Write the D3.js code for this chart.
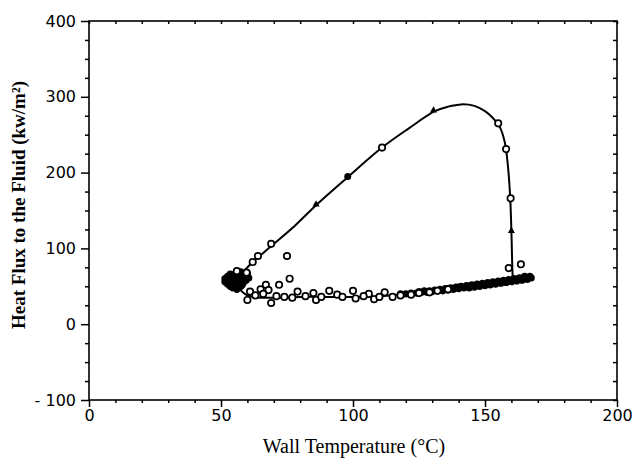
<!DOCTYPE html>
<html>
<head>
<meta charset="utf-8">
<script src="https://cdn.jsdelivr.net/npm/d3@7"></script>
<style>
  body { margin: 0; background: #fff; }
  .tick text { font-family: "DejaVu Sans", sans-serif; font-size: 16px; fill: #000; }
  .title { font-family: "Liberation Serif", serif; fill: #000; }
</style>
</head>
<body>
<svg id="chart"></svg>
<script>
const xTicks = [0, 50, 100, 150, 200];
const yTicks = [-100, 0, 100, 200, 300, 400];

// heating run: rise to the peak, then the steep drop
const heatingCurve = [
  [54, 57], [58, 68], [62, 82], [66, 94], [70, 106], [78, 130], [86, 157],
  [98, 194], [111, 233], [121, 258], [131, 281], [136, 287], [141, 290],
  [146, 288], [150, 281], [153, 272], [155.5, 261], [157.5, 240], [158.5, 215],
  [159.5, 170], [160, 123], [160.3, 80], [160.5, 60]
];

// cooling run back along the bottom
const coolingCurve = [
  [167, 62], [160, 57], [150, 52], [140, 48], [130, 43], [120, 40], [110, 37],
  [100, 36], [90, 36], [80, 36], [70, 35], [62, 36], [59, 40], [56, 50], [54, 57]
];

const openCircles = [
  [61, 43], [60, 32], [65, 46], [67, 52], [69, 28], [72, 52], [76, 60], [75, 90],
  [79, 43], [85, 41], [86, 32], [91, 44], [94, 39], [100, 44], [101, 34], [106, 40],
  [108, 33], [112, 42], [115, 36], [122, 39], [125, 41], [129, 42], [132, 44], [136, 46],
  [68, 45], [63, 38], [66, 40], [71, 37], [74, 36], [77, 35], [82, 37], [88, 36],
  [96, 36], [104, 37], [110, 36], [118, 38],
  [59.7, 68], [56, 70], [62, 82], [64, 90], [69, 106], [111, 233],
  [155, 265], [158, 231], [159.7, 166], [159, 74], [163.6, 79]
];

const triangles = [[86, 158], [130.5, 282], [160, 123]];
const filledDots = [[98, 195]];

// dense clusters that print as solid black
const leftCluster = [
  [51.5, 56], [51.5, 60], [52.5, 53], [52.5, 58], [52.5, 63], [53.5, 50], [53.5, 55],
  [53.5, 60], [53.5, 66], [54.5, 48], [54.5, 53], [54.5, 58], [54.5, 63], [55.5, 51],
  [55.5, 56], [55.5, 61], [55.5, 67], [56.5, 54], [56.5, 59], [56.5, 64], [57.5, 50],
  [57.5, 57], [57.5, 62], [57.5, 69], [58.5, 55], [58.5, 60], [58.5, 66], [59.5, 58],
  [59.5, 63], [60.5, 61], [60, 67], [56, 46], [58, 52]
];
const rightBand = [
  [118, 40], [120, 40], [122, 41], [124, 41], [126, 42], [128, 42], [130, 43],
  [132, 44], [134, 44], [136, 45], [138, 46], [140, 47], [142, 48], [144, 48],
  [146, 49], [148, 50], [150, 51], [152, 52], [154, 53], [156, 54], [158, 55],
  [160, 56], [162, 57], [164, 58], [166, 59], [167.5, 61], [167, 63], [165, 63],
  [163, 61], [161, 60], [159, 59], [157, 58], [155, 57], [153, 56], [151, 55],
  [149, 54], [147, 53], [145, 52], [143, 51], [141, 50], [139, 49], [137, 48],
  [135, 47], [133, 46], [131, 45], [129, 44], [127, 44], [125, 43], [160, 58],
  [156, 56], [152, 54], [148, 52], [144, 50], [140, 49], [136, 47]
];

const w = 635;
const h = 463;
const pLeft = 89, pRight = 617, pTop = 21, pBottom = 400;

const svg = d3.select("#chart").attr("width", w).attr("height", h);

const x = d3.scaleLinear().domain([0, 200]).range([pLeft, pRight]);
const y = d3.scaleLinear().domain([-100, 400]).range([pBottom, pTop]);

const minorX = d3.range(0, 201, 10).filter((d) => d % 50 !== 0);
const minorY = d3.range(-100, 401, 25).filter((d) => d % 100 !== 0);

// frame
svg.append("rect")
  .attr("x", pLeft).attr("y", pTop)
  .attr("width", pRight - pLeft).attr("height", pBottom - pTop)
  .attr("fill", "none").attr("stroke", "#000").attr("stroke-width", 1.6);

// major axes
svg.append("g")
  .attr("transform", `translate(0,${pBottom})`)
  .call(d3.axisBottom(x).tickValues(xTicks).tickSize(7).tickPadding(3).tickFormat((d) => String(d)))
  .call((g) => g.select(".domain").remove());

svg.append("g")
  .attr("transform", `translate(${pLeft},0)`)
  .call(d3.axisLeft(y).tickValues(yTicks).tickSize(8).tickPadding(5)
    .tickFormat((d) => (d < 0 ? "- " + Math.abs(d) : String(d))))
  .call((g) => g.select(".domain").remove());

// minor ticks outside on bottom/left
svg.append("g")
  .attr("transform", `translate(0,${pBottom})`)
  .call(d3.axisBottom(x).tickValues(minorX).tickSize(3).tickFormat(""))
  .call((g) => g.select(".domain").remove());

svg.append("g")
  .attr("transform", `translate(${pLeft},0)`)
  .call(d3.axisLeft(y).tickValues(minorY).tickSize(4).tickFormat(""))
  .call((g) => g.select(".domain").remove());

// inward ticks on top/right
svg.append("g")
  .attr("transform", `translate(0,${pTop})`)
  .call(d3.axisBottom(x).tickValues(minorX.concat(xTicks)).tickSize(3).tickFormat(""))
  .call((g) => g.select(".domain").remove());

svg.append("g")
  .attr("transform", `translate(${pRight},0)`)
  .call(d3.axisLeft(y).tickValues(minorY.concat(yTicks)).tickSize(4).tickFormat(""))
  .call((g) => g.select(".domain").remove());

svg.selectAll(".tick line").attr("stroke", "#000").attr("stroke-width", 1.5);

// curves
const line = d3.line()
  .x((d) => x(d[0]))
  .y((d) => y(d[1]))
  .curve(d3.curveCatmullRom.alpha(0.5));

[heatingCurve, coolingCurve].forEach((c) => {
  svg.append("path")
    .datum(c)
    .attr("d", line)
    .attr("fill", "none")
    .attr("stroke", "#000")
    .attr("stroke-width", 2);
});

// clusters
svg.append("g")
  .selectAll("circle")
  .data(leftCluster.concat(rightBand))
  .enter()
  .append("circle")
  .attr("cx", (d) => x(d[0]))
  .attr("cy", (d) => y(d[1]))
  .attr("r", 3.6)
  .attr("fill", "#000");

// open circles
svg.append("g")
  .selectAll("circle")
  .data(openCircles)
  .enter()
  .append("circle")
  .attr("cx", (d) => x(d[0]))
  .attr("cy", (d) => y(d[1]))
  .attr("r", 3.2)
  .attr("fill", "#fff")
  .attr("stroke", "#000")
  .attr("stroke-width", 1.7);

svg.append("g")
  .selectAll("path")
  .data(triangles)
  .enter()
  .append("path")
  .attr("d", d3.symbol(d3.symbolTriangle, 22))
  .attr("transform", (d) => `translate(${x(d[0])},${y(d[1])})`)
  .attr("fill", "#000");

svg.append("g")
  .selectAll("circle")
  .data(filledDots)
  .enter()
  .append("circle")
  .attr("cx", (d) => x(d[0]))
  .attr("cy", (d) => y(d[1]))
  .attr("r", 3.5)
  .attr("fill", "#000");

// titles
svg.append("text")
  .attr("class", "title")
  .attr("x", 354)
  .attr("y", 453)
  .attr("text-anchor", "middle")
  .style("font-size", "20px")
  .text("Wall Temperature (°C)");

svg.append("text")
  .attr("class", "title")
  .attr("transform", "translate(25,205) rotate(-90)")
  .attr("text-anchor", "middle")
  .style("font-size", "19px")
  .style("font-weight", "bold")
  .text("Heat Flux to the Fluid (kw/m²)");
</script>
</body>
</html>
